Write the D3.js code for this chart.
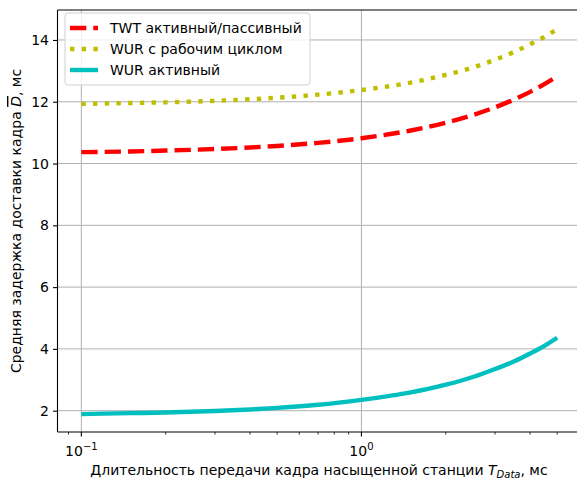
<!DOCTYPE html>
<html>
<head>
<meta charset="utf-8">
<script src="https://cdn.jsdelivr.net/npm/d3@7"></script>
<style>
  html, body { margin: 0; padding: 0; background: #fff; }
  svg { display: block; font-family: "DejaVu Sans", sans-serif; }
</style>
</head>
<body>
<svg id="chart" width="577" height="483"></svg>
<script>
// Frame duration of the saturated station, ms
const tData = [0.1, 0.15, 0.2, 0.3, 0.4, 0.5, 0.7, 1.0, 1.5, 2.0, 2.5, 3.0, 3.5, 4.0, 4.5, 5.0];

// Mean frame delivery delay, ms
const twtDelay  = [10.37, 10.39, 10.42, 10.47, 10.52, 10.57, 10.67, 10.82, 11.07, 11.32, 11.57, 11.82, 12.07, 12.32, 12.57, 12.82];
const wurDuty   = [11.93, 11.96, 11.98, 12.03, 12.08, 12.13, 12.23, 12.38, 12.62, 12.87, 13.11, 13.36, 13.61, 13.86, 14.10, 14.35];
const wurActive = [1.89, 1.92, 1.94, 1.99, 2.04, 2.09, 2.19, 2.35, 2.59, 2.84, 3.09, 3.35, 3.59, 3.85, 4.10, 4.36];

const seriesNames = ["TWT активный/пассивный", "WUR с рабочим циклом", "WUR активный"];
const yTicks = [2, 4, 6, 8, 10, 12, 14];
const xMajorTicks = [0.1, 1];
const xMinorTicks = [0.09, 0.2, 0.3, 0.4, 0.5, 0.6, 0.7, 0.8, 0.9, 2, 3, 4, 5, 6];

const series = [
  { name: seriesNames[0], values: twtDelay,  color: "#ff0000", dash: "16.3,7.0" },
  { name: seriesNames[1], values: wurDuty,   color: "#bfbf00", dash: "4.4,7.3" },
  { name: seriesNames[2], values: wurActive, color: "#00bfbf", dash: null }
];

const svg = d3.select("#chart");
const pL = 57.5, pR = 581, pT = 10, pB = 432;

const x = d3.scaleLog().domain([0.0822, 6.08]).range([pL, pR]);
const y = d3.scaleLinear().domain([1.31, 14.97]).range([pB, pT]);

const lw = 4.4;
const fs = 14;

// grid
const grid = svg.append("g");
grid.selectAll("line.gx").data(xMajorTicks).join("line")
  .attr("x1", d => x(d)).attr("x2", d => x(d))
  .attr("y1", pT).attr("y2", pB)
  .attr("stroke", "#b0b0b0").attr("stroke-width", 1);
grid.selectAll("line.gy").data(yTicks).join("line")
  .attr("x1", pL).attr("x2", pR)
  .attr("y1", d => y(d)).attr("y2", d => y(d))
  .attr("stroke", "#b0b0b0").attr("stroke-width", 1);

// curves
const line = d3.line()
  .x((d, i) => x(tData[i]))
  .y(d => y(d))
  .curve(d3.curveMonotoneX);

const plot = svg.append("g");
series.forEach(s => {
  plot.append("path")
    .attr("d", line(s.values))
    .attr("fill", "none")
    .attr("stroke", s.color)
    .attr("stroke-width", lw)
    .attr("stroke-dasharray", s.dash)
    .attr("stroke-linecap", "butt");
});

// spines
const spines = svg.append("g").attr("stroke", "#000").attr("stroke-width", 1.1);
spines.append("line").attr("x1", pL).attr("x2", pL).attr("y1", pT).attr("y2", pB);
spines.append("line").attr("x1", pL).attr("x2", pR).attr("y1", pB).attr("y2", pB);
spines.append("line").attr("x1", pL).attr("x2", pR).attr("y1", pT).attr("y2", pT);
spines.append("line").attr("x1", pR).attr("x2", pR).attr("y1", pT).attr("y2", pB);

// y axis
const yAxis = d3.axisLeft(y).tickValues(yTicks).tickSize(4.5).tickPadding(4).tickFormat(d3.format("d"));
const gy = svg.append("g").attr("transform", `translate(${pL},0)`).call(yAxis);
gy.select(".domain").remove();
gy.selectAll("text").attr("font-size", fs).attr("font-family", "DejaVu Sans").attr("fill", "#000");
gy.selectAll("line").attr("stroke-width", 1.1);

// x axis
const gx = svg.append("g").attr("transform", `translate(0,${pB})`);
gx.selectAll("line.minor").data(xMinorTicks.filter(d => x(d) >= pL && x(d) <= pR)).join("line")
  .attr("x1", d => x(d)).attr("x2", d => x(d)).attr("y1", 0).attr("y2", 2.6)
  .attr("stroke", "#000").attr("stroke-width", 0.8);
gx.selectAll("line.major").data(xMajorTicks).join("line")
  .attr("x1", d => x(d)).attr("x2", d => x(d)).attr("y1", 0).attr("y2", 4.5)
  .attr("stroke", "#000").attr("stroke-width", 1.1);
const xl = gx.selectAll("text.tl").data(xMajorTicks).join("text")
  .attr("x", d => x(d)).attr("y", 24)
  .attr("text-anchor", "middle").attr("font-size", fs);
xl.append("tspan").text("10");
xl.append("tspan").attr("dy", -6).attr("font-size", 10).text(d => String(Math.round(Math.log10(d))).replace("-", "\u2212"));

// axis titles
const xt = svg.append("text").attr("x", 319).attr("y", 475)
  .attr("text-anchor", "middle").attr("font-size", fs);
xt.append("tspan").text("Длительность передачи кадра насыщенной станции ");
xt.append("tspan").attr("font-style", "italic").text("T");
xt.append("tspan").attr("font-style", "italic").attr("font-size", 10).attr("dy", 3).text("Data");
xt.append("tspan").attr("dy", -3).text(", мс");

const yt = svg.append("text")
  .attr("transform", `translate(21,${(pT + pB) / 2}) rotate(-90)`)
  .attr("text-anchor", "middle").attr("font-size", fs);
yt.append("tspan").text("Средняя задержка доставки кадра ");
yt.append("tspan").attr("font-style", "italic").style("text-decoration", "overline").text("D");
yt.append("tspan").text(", мс");

// legend
const lg = svg.append("g").attr("transform", "translate(65,13)");
lg.append("rect").attr("width", 245).attr("height", 72).attr("rx", 3)
  .attr("fill", "#fff").attr("fill-opacity", 0.8)
  .attr("stroke", "#d0d0d0").attr("stroke-width", 1);
series.forEach((s, i) => {
  const cy = 15 + i * 21;
  lg.append("line").attr("x1", 5).attr("x2", 33).attr("y1", cy).attr("y2", cy)
    .attr("stroke", s.color).attr("stroke-width", lw).attr("stroke-dasharray", s.dash);
  lg.append("text").attr("x", 45).attr("y", cy + 5).attr("font-size", fs).text(s.name);
});
</script>
</body>
</html>
